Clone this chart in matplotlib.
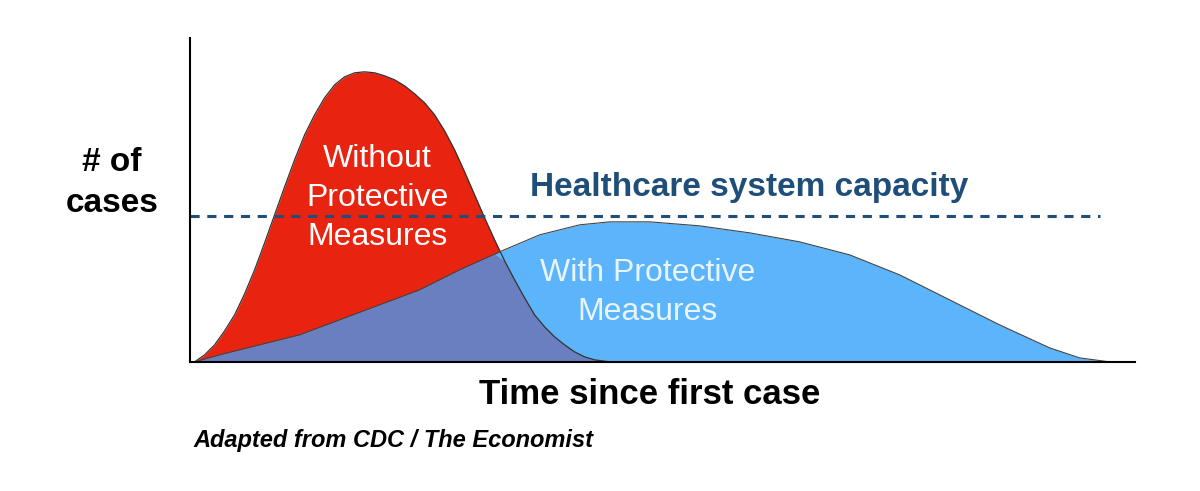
import numpy as np
import matplotlib
matplotlib.use("Agg")
import matplotlib.pyplot as plt

plt.rcParams['font.family'] = ['Liberation Sans', 'DejaVu Sans']

# curve values (x: time units, y: cases units)
red_x = [5, 15, 25, 35, 45, 55, 65, 75, 85, 95, 105, 115, 125, 135, 145, 155, 165, 175, 185, 195, 205, 215, 225, 235, 245, 255, 265, 275, 285, 295, 305, 315, 325, 335, 345, 355, 365, 375, 385, 395, 405, 420]
red_y = [0, 7, 17, 31, 47, 68, 92, 119, 147, 175, 202, 227, 247, 264, 277, 285, 289, 290, 289, 286, 282, 276, 268, 259, 247, 231, 212, 190, 167, 144, 122, 101, 82, 64, 47, 35, 25, 17, 10, 5, 2, 0]
blue_x = [5, 30, 70, 110, 150, 190, 230, 270, 310, 350, 390, 420, 460, 510, 560, 610, 660, 710, 760, 810, 860, 890, 920]
blue_y = [0, 7, 17, 27, 42, 57, 72, 92, 110, 127, 137, 140, 140, 136, 129, 120, 107, 87, 62, 37, 14, 4, 0]
capacity = 146

fig = plt.figure(figsize=(12, 4.91), dpi=100)
ax = fig.add_axes([0.158, 0.263, 0.7875, 0.66])
ax.set_xlim(0, 945)
ax.set_ylim(0, 324)

rx = np.array(red_x); ry = np.array(red_y)
bx = np.array(blue_x); by = np.array(blue_y)
ax.fill_between(rx, ry, color="#e8230f", lw=0)
ax.fill_between(bx, by, color="#5cb4fa", lw=0)
ov = np.minimum(ry, np.interp(rx, bx, by))
ax.fill_between(rx, ov, color="#6a7fc0", lw=0)
ax.plot(rx, ry, color="#333333", lw=0.9)
ax.plot(bx, by, color="#444444", lw=0.8)

ax.axhline(capacity, xmin=0, xmax=910/945, color="#1f4e79", ls=(0, (3, 2.5)), lw=2.2)

for s in ["top", "right"]:
    ax.spines[s].set_visible(False)
for s in ["left", "bottom"]:
    ax.spines[s].set_linewidth(1.5)
ax.set_xticks([]); ax.set_yticks([])

ax.text(188, 164, "Without\nProtective\nMeasures", color="white", fontsize=23,
        ha="center", va="center", linespacing=1.4)
ax.text(458, 69, "With Protective\nMeasures", color="#e8f4ff", fontsize=23,
        ha="center", va="center", linespacing=1.4)
ax.text(560, 174, "Healthcare system capacity", color="#1f4e79", fontsize=24,
        fontweight="bold", ha="center", va="center")
fig.text(112/1200, 1-183/491, "# of\ncases", fontsize=24, fontweight="bold",
         ha="center", va="center", linespacing=1.4)
fig.text(650/1200, 1-395/491, "Time since first case", fontsize=25, fontweight="bold",
         ha="center", va="center")
fig.text(193/1200, 1-440/491, "Adapted from CDC / The Economist", fontsize=17,
         fontweight="bold", style="italic", ha="left", va="center")

fig.savefig("out.png", dpi=100)
